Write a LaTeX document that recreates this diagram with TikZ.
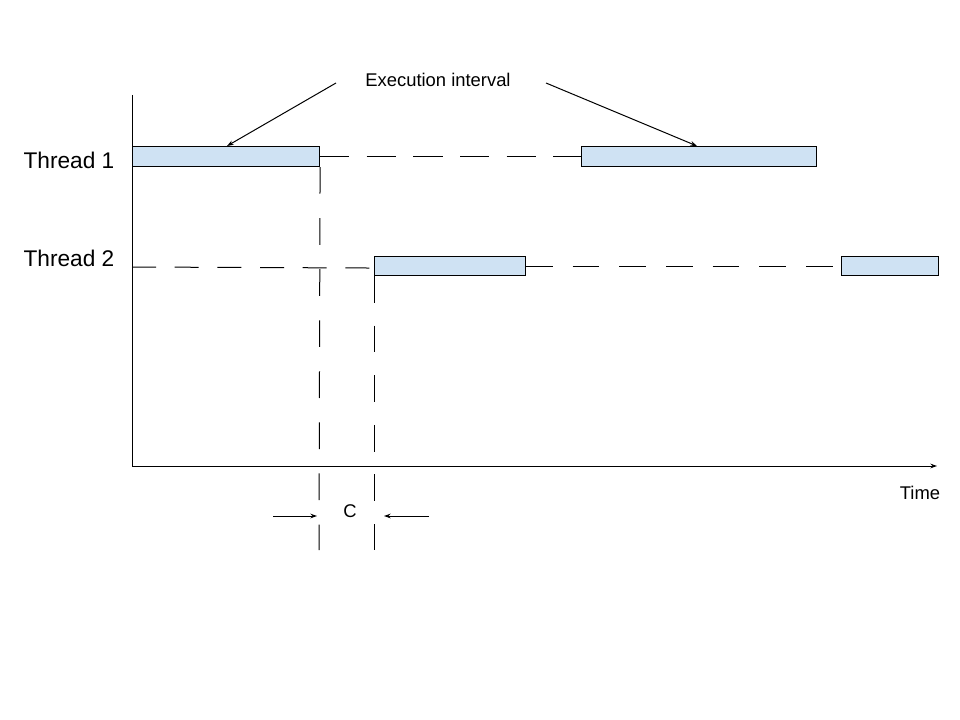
\documentclass[tikz,border=0pt]{standalone}
\usepackage{fontspec}
\setmainfont{Liberation Sans}
\usetikzlibrary{arrows.meta}
\definecolor{boxblue}{HTML}{CFE2F3}
\tikzset{
  px/.style={x=0.75pt,y=-0.75pt},
  ibox/.style={draw=black, fill=boxblue, line width=0.8pt, rectangle, inner sep=0pt, anchor=north west},
  thin line/.style={line width=0.75pt},
  hdash/.style={line width=0.75pt, dash pattern=on 22pt off 13pt},
  vdash/.style={line width=0.75pt, dash pattern=on 20pt off 17.5pt},
  lbl/.style={font=\fontsize{13.8}{16}\selectfont, inner sep=0pt},
  big/.style={font=\fontsize{17}{20}\selectfont, inner sep=0pt},
  tip/.style={-{Stealth[length=5pt,width=3.5pt]}}
}
\begin{document}
\begin{tikzpicture}[px]
\useasboundingbox (0,0) rectangle (960,720);
% axes
\coordinate (o) at (132,466);
\coordinate (ytop) at (132,95);
\coordinate (xend) at (937,466);
\draw[thin line] (ytop) -- (o);
\draw[thin line, tip] (o) -- (xend);
% boxes
\node[ibox, minimum width=187*0.75pt, minimum height=20*0.75pt] (t1a) at (132,146) {};
\node[ibox, minimum width=235*0.75pt, minimum height=20*0.75pt] (t1b) at (581,146) {};
\node[ibox, minimum width=151*0.75pt, minimum height=19*0.75pt] (t2a) at (374,256) {};
\node[ibox, minimum width=97*0.75pt, minimum height=19*0.75pt] (t2b) at (841,256) {};
% thread labels
\node[big] (th1) at (69,160) {Thread 1};
\node[big] (th2) at (69,258) {Thread 2};
% thread 1 idle
\draw[hdash] (t1a.east) -- (t1b.west);
% thread 2 idle
\coordinate (t2start) at (132,267);
\draw[hdash, dash pattern=on 18pt off 14pt] (t2start) -- ([yshift=-1.5pt]t2a.west);
\draw[hdash, dash pattern=on 20pt off 15pt] (t2a.east) -- (t2b.west);
% verticals
\coordinate (v1b) at (319,550);
\coordinate (v2b) at (374,550);
\draw[vdash, dash pattern=on 20pt off 18.3pt] (t1a.south east) -- (v1b);
\draw[vdash, dash pattern=on 20pt off 17.2pt] (t2a.south west) -- (v2b);
% C
\node[lbl] (c) at (350,511) {C};
\coordinate (la) at (273,516);
\coordinate (lb) at (317,516);
\coordinate (ra) at (429,516);
\coordinate (rb) at (384,516);
\draw[thin line, tip] (la) -- (lb);
\draw[thin line, tip] (ra) -- (rb);
% time
\node[lbl] (time) at (920,493) {Time};
% execution interval
\node[lbl] (ex) at (438,80) {Execution interval};
\coordinate (exl) at (336,83);
\coordinate (exr) at (546,83);
\draw[thin line, tip] (exl) -- ([xshift=95*0.75pt]t1a.north west);
\draw[thin line, tip] (exr) -- ([xshift=116*0.75pt]t1b.north west);
\end{tikzpicture}
\end{document}
